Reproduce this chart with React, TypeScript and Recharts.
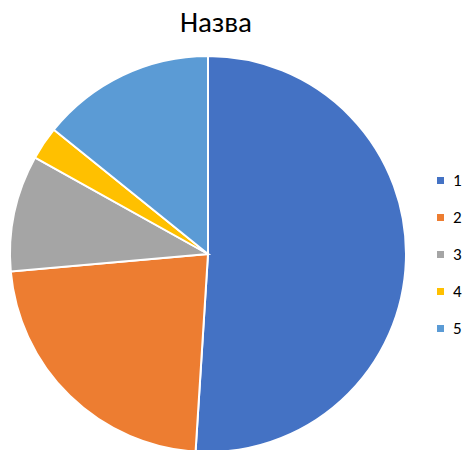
import { Cell, Legend, Pie, PieChart } from 'recharts'

const labels = ['1', '2', '3', '4', '5']
const values = [51, 22.6, 9.5, 2.7, 14.2]
const colors = ['#4472C4', '#ED7D31', '#A5A5A5', '#FFC000', '#5B9BD5']

const data = labels.map((name, i) => ({ name, value: values[i] }))

const font = 'Carlito, Calibri, "Open Sans", "Liberation Sans", sans-serif'

function LegendList() {
  return (
    <div style={{ fontFamily: font }}>
      {labels.map((name, i) => (
        <div key={name} style={{ display: 'flex', alignItems: 'center', height: 37 }}>
          <span style={{ width: 7, height: 7, background: colors[i], marginRight: 9 }} />
          <span style={{ fontSize: 17, color: '#000' }}>{name}</span>
        </div>
      ))}
    </div>
  )
}

export default function App() {
  return (
    <div style={{ position: 'absolute', left: 0, top: 0, width: 464, height: 450, background: '#fff' }}>
      <div
        style={{
          position: 'absolute',
          top: 2,
          left: 0,
          width: 432,
          textAlign: 'center',
          fontFamily: font,
          fontSize: 29,
          lineHeight: '40px',
          color: '#000',
        }}
      >
        Назва
      </div>
      <PieChart width={464} height={450} margin={{ top: 0, right: 0, bottom: 0, left: 0 }}>
        <Pie
          data={data}
          dataKey="value"
          nameKey="name"
          cx={208}
          cy={254}
          outerRadius={198}
          startAngle={90}
          endAngle={-270}
          stroke="#fff"
          strokeWidth={2}
          isAnimationActive={false}
        >
          {data.map((d, i) => (
            <Cell key={d.name} fill={colors[i]} />
          ))}
        </Pie>
        <Legend
          layout="vertical"
          content={() => <LegendList />}
          wrapperStyle={{ left: 437, top: 162, width: 30 }}
        />
      </PieChart>
    </div>
  )
}
